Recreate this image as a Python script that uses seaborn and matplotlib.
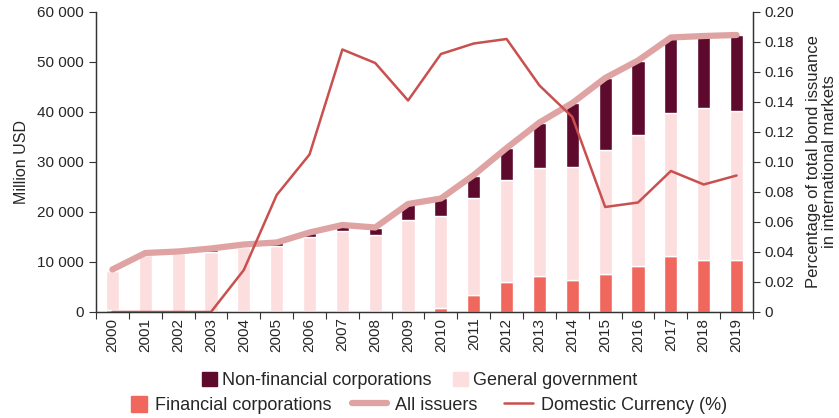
import numpy as np
import seaborn as sns
import matplotlib.pyplot as plt
from matplotlib.patches import Patch, Rectangle
from matplotlib.lines import Line2D
from matplotlib.legend_handler import HandlerPatch, HandlerLine2D
from matplotlib.ticker import FuncFormatter

years = [str(y) for y in range(2000, 2020)]
financial = [400, 200, 200, 100, 200, 100, 100, 200, 200, 200,
             800, 3400, 6000, 7200, 6400, 7600, 9200, 11200, 10400, 10400]
general_gov = [7700, 11200, 11600, 11900, 12800, 13100, 14900, 16000, 15200, 18200,
               18400, 19400, 20400, 21600, 22600, 24800, 26200, 28600, 30400, 29800]
non_financial = [100, 200, 200, 400, 400, 600, 800, 1000, 1400, 3200,
                 3600, 4400, 6400, 9000, 12800, 14400, 14800, 15000, 14200, 15200]
all_issuers = [8500, 11800, 12100, 12700, 13500, 13900, 15900, 17400, 16900, 21600,
               22700, 27400, 32800, 37900, 41800, 46800, 50300, 54900, 55200, 55400]
domestic_pct = [0.0, 0.0, 0.0, 0.0, 0.028, 0.078, 0.105, 0.175, 0.166, 0.141,
                0.172, 0.179, 0.182, 0.151, 0.130, 0.070, 0.073, 0.094, 0.085, 0.091]

c_fin = '#F0675E'
c_gov = '#FCDEDE'
c_nonfin = '#5E0A2D'
c_all = '#E0A3A3'
c_dom = '#C8504F'


def square_patch(legend, orig_handle, xdescent, ydescent, width, height, fontsize):
    s = fontsize * 0.88
    return Rectangle((-xdescent + width - s, -ydescent + (height - s) / 2), s, s)


class ShortLine(HandlerLine2D):
    # line handle drawn shorter, flush with the label
    def __init__(self, frac, **kw):
        super().__init__(**kw)
        self.frac = frac

    def create_artists(self, legend, orig_handle, xdescent, ydescent, width, height, fontsize, trans):
        w = width * self.frac
        return super().create_artists(legend, orig_handle, xdescent - (width - w), ydescent,
                                      w, height, fontsize, trans)


sns.set_style('white')
plt.rcParams['font.family'] = ['Liberation Sans', 'DejaVu Sans']

fig = plt.figure(figsize=(8.39, 4.18), dpi=100)
ax = fig.add_axes([0.1144, 0.2536, 0.7831, 0.7177])
ax2 = ax.twinx()

x = np.arange(len(years))
bottom2 = np.array(financial) + np.array(general_gov)
sns.barplot(x=x, y=financial, color=c_fin, width=0.4, ax=ax, saturation=1, native_scale=True)
sns.barplot(x=x, y=general_gov, bottom=financial, color=c_gov, width=0.4, ax=ax,
            saturation=1, native_scale=True)
sns.barplot(x=x, y=non_financial, bottom=bottom2, color=c_nonfin, width=0.4, ax=ax,
            saturation=1, native_scale=True)
sns.lineplot(x=x, y=all_issuers, color=c_all, linewidth=4.5, ax=ax)
sns.lineplot(x=x, y=domestic_pct, color=c_dom, linewidth=1.8, ax=ax2)

ax.set_xlim(-0.5, 19.5)
ax.set_ylim(0, 60000)
ax2.set_ylim(0, 0.20)
ax.set_yticks(np.arange(0, 60001, 10000))
ax.yaxis.set_major_formatter(FuncFormatter(lambda v, p: f'{int(v):,}'.replace(',', ' ')))
ax2.set_yticks(np.arange(0, 0.201, 0.02))
ax2.yaxis.set_major_formatter(FuncFormatter(lambda v, p: '0' if v == 0 else f'{v:.2f}'))

ax.set_xticks(x)
ax.set_xticklabels(years, rotation=90)
ax.set_xticks(np.arange(-0.5, 19.6, 1), minor=True)
ax.tick_params(axis='x', which='major', length=0, labelsize=11, pad=4)
ax.tick_params(axis='x', which='minor', length=5, width=0.8, color='#333333', direction='out', bottom=True)
ax.tick_params(axis='y', length=5, width=0.8, color='#333333', direction='out', labelsize=11, left=True)
ax2.tick_params(axis='y', length=5, width=0.8, color='#333333', direction='out', labelsize=11, right=True)

for a in (ax, ax2):
    a.spines['top'].set_visible(False)
    for s in ('left', 'right', 'bottom'):
        a.spines[s].set_color('#333333')
        a.spines[s].set_linewidth(0.9)
ax.set_xlabel('')
ax.set_ylabel('Million USD', fontsize=11.5, labelpad=6)
ax2.set_ylabel('Percentage of total bond issuance\nin international markets', fontsize=12,
               linespacing=1.15, labelpad=8)

h1 = [Patch(color=c_nonfin), Patch(color=c_gov)]
fig.legend(h1, ['Non-financial corporations', 'General government'], ncol=2,
           loc='center', bbox_to_anchor=(0.5, 0.09), frameon=False, fontsize=13,
           handlelength=0.85, handleheight=0.85, columnspacing=1.2, handletextpad=0.25)
dom_line = Line2D([], [], color=c_dom, lw=1.8)
h2 = [Patch(color=c_fin), Line2D([], [], color=c_all, lw=4.5), dom_line]
fig.legend(h2, ['Financial corporations', 'All issuers', 'Domestic Currency (%)'], ncol=3,
           loc='center', bbox_to_anchor=(0.5, 0.03), frameon=False, fontsize=13,
           handlelength=1.95, handleheight=0.85, columnspacing=1.1, handletextpad=0.45,
           handler_map={Patch: HandlerPatch(patch_func=square_patch),
                        dom_line: ShortLine(0.8)})

fig.savefig('out.png', dpi=100)
